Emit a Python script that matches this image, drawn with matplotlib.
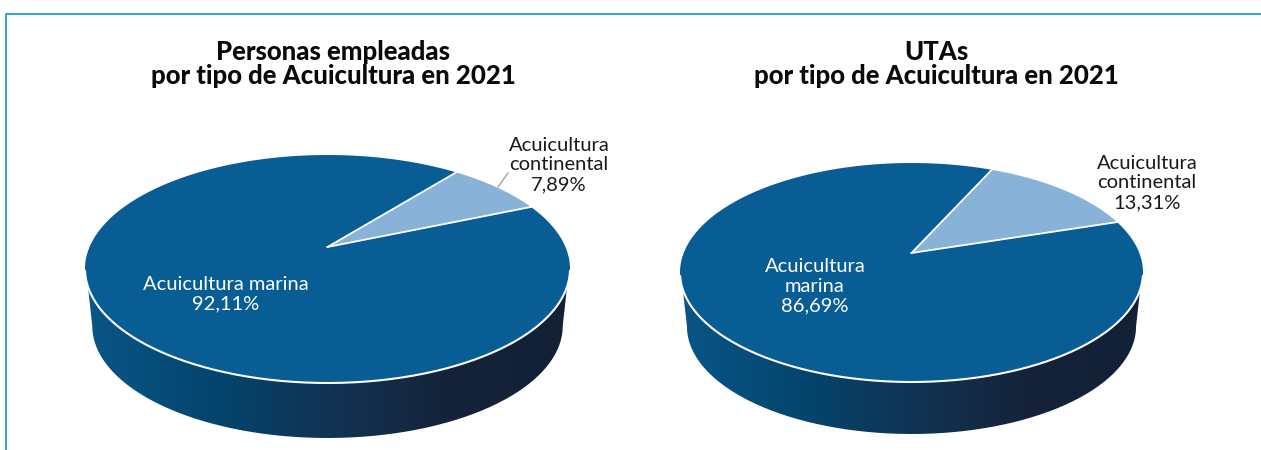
import numpy as np
import matplotlib
matplotlib.use("Agg")
import matplotlib.pyplot as plt
from matplotlib.colors import LinearSegmentedColormap
from matplotlib.path import Path
from matplotlib.patches import PathPatch

plt.rcParams['font.family'] = ['Lato', 'DejaVu Sans']

# data
categories = ["Acuicultura continental", "Acuicultura marina"]
personas_vals = [7.89, 92.11]
utas_vals = [13.31, 86.69]
personas_title = "Personas empleadas\npor tipo de Acuicultura en 2021"
utas_title = "UTAs\npor tipo de Acuicultura en 2021"
personas_labels = ["Acuicultura\ncontinental\n7,89%", "Acuicultura marina\n92,11%"]
utas_labels = ["Acuicultura\ncontinental\n13,31%", "Acuicultura\nmarina\n86,69%"]

TOP_BLUE = "#085d94"
LIGHT_BLUE = "#88b2d7"
FRAME = "#1c9bc8"
wall_cmap = LinearSegmentedColormap.from_list(
    "wall", [(0, "#0a5688"), (0.25, "#03466f"), (0.55, "#12304f"), (0.75, "#15233a"), (1, "#122136")])


def rim(t, apex, rx, top, bottom):
    # circle seen in perspective, so the apex is not the middle of the ellipse
    up = apex[1] - top
    down = bottom - apex[1]
    k = (down - up) / (down + up)
    a = up * (1 + k)
    b = rx * np.sqrt(1 - k ** 2)
    w = 1 + k * np.sin(t)
    return apex[0] + b * np.cos(t) / w, apex[1] - a * np.sin(t) / w


def draw_pie(ax, vals, apex, rx, top, bottom, depth, start):
    cx = apex[0]
    cy = (top + bottom) / 2
    ry = (bottom - top) / 2
    shrink = 0.97

    # side wall
    t = np.linspace(np.pi, 2 * np.pi, 200)
    bx = cx + shrink * rx * np.cos(t)
    by = cy + depth + (ry - 2) * np.sin(-t) + 2
    px = np.r_[cx - rx + 1, bx, cx + rx - 1, cx - rx + 1]
    py = np.r_[cy, by, cy, cy]
    clip = PathPatch(Path(np.c_[px, py]), fc="none", ec="none")
    ax.add_patch(clip)
    im = ax.imshow(np.linspace(0, 1, 256).reshape(1, -1), cmap=wall_cmap, aspect="auto",
                   extent=[cx - rx, cx + rx, bottom + depth + 2, top], zorder=2)
    im.set_clip_path(clip)

    # top, marina then continental
    t1 = np.radians(start)
    t2 = t1 + np.radians(vals[0] / sum(vals) * 360)
    tt = np.linspace(t2, t1 + 2 * np.pi, 400)
    x, y = rim(tt, apex, rx, top, bottom)
    ax.fill(np.r_[apex[0], x], np.r_[apex[1], y], color=TOP_BLUE, lw=0, zorder=3)
    tt = np.linspace(t1, t2, 60)
    x, y = rim(tt, apex, rx, top, bottom)
    ax.fill(np.r_[apex[0], x], np.r_[apex[1], y], color=LIGHT_BLUE, lw=0, zorder=3)

    # white edges
    for a in (t1, t2):
        ex, ey = rim(a, apex, rx, top, bottom)
        ax.plot([apex[0], ex], [apex[1], ey], color="white", lw=1.3, zorder=4)
    tt = np.radians(np.linspace(192, 348, 200))
    x, y = rim(tt, apex, rx, top, bottom)
    ax.plot(x, y, color="white", lw=1.5, zorder=4, solid_capstyle="round")


fig = plt.figure(figsize=(12.61, 4.5), dpi=100)
ax = fig.add_axes([0, 0, 1, 1])

draw_pie(ax, personas_vals, (327.5, 247), 242.5, 155, 383, 55, 23.1)
draw_pie(ax, utas_vals, (911.5, 253), 231.5, 163, 382, 52, 17.9)

ax.set_xlim(0, 1261)
ax.set_ylim(450, 0)
ax.axis("off")

# frame
ax.plot([5.5, 5.5, 1261], [450, 13.5, 13.5], color=FRAME, lw=1.3, zorder=1)

# titles
ttl = dict(ha="center", va="center", fontsize=18.5, fontweight="black", linespacing=1.0, color="#0a0a0a")
ax.text(333, 64.5, personas_title, **ttl)
ax.text(936, 64.5, utas_title, **ttl)

# labels
txt = dict(ha="center", va="center", fontsize=14.5, linespacing=1.2)
ax.text(559, 165, personas_labels[0], color="#1a1a1a", **txt)
ax.text(226, 294, personas_labels[1], color="white", zorder=5, **txt)
ax.text(1147, 183, utas_labels[0], color="#1a1a1a", **txt)
ax.text(815, 286, utas_labels[1], color="white", zorder=5, **txt)

# leader
ax.plot([508, 498], [173, 187], color="#9a9a9a", lw=0.9, zorder=5)

fig.savefig("out.png", dpi=100)
